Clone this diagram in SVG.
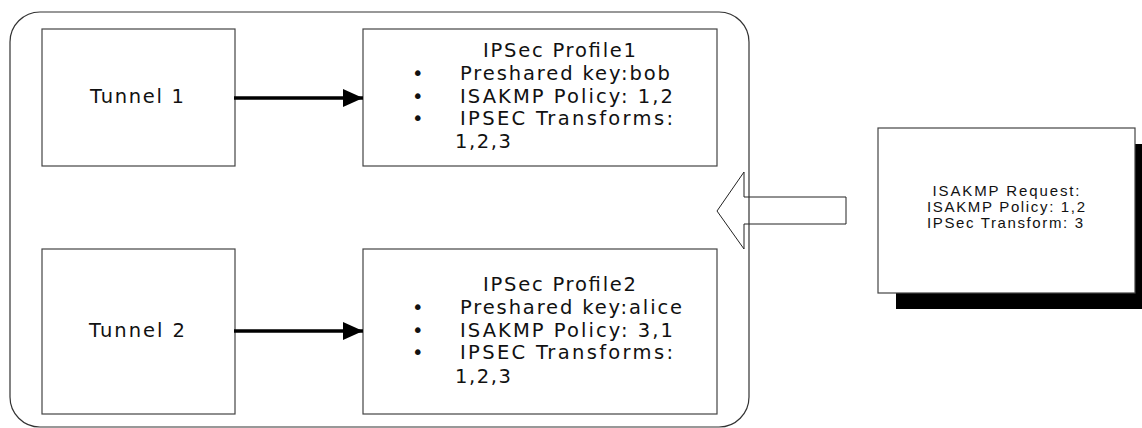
<svg xmlns="http://www.w3.org/2000/svg" width="1142" height="428" viewBox="0 0 1142 428">
<style>
.box{fill:#fff;stroke:#444;stroke-width:1.2}
.t{font-family:"DejaVu Sans",Verdana,sans-serif;font-size:19.5px;fill:#111}
.r{font-family:"Liberation Sans",Arial,sans-serif;font-size:15px;fill:#111;text-anchor:middle}
.conn{stroke:#000;stroke-width:3.5;fill:none}
</style>
<defs>
<marker id="ah" markerUnits="userSpaceOnUse" markerWidth="22" markerHeight="20" refX="20" refY="9" orient="auto">
<path d="M0,0 L20,9 L0,18 Z" fill="#000"/>
</marker>
</defs>
<g id="request-arrow">
<polygon points="717,211 744,172 744,197 846,197 846,224 744,224 744,249" fill="#fff" stroke="#222" stroke-width="1"/>
</g>
<g id="container">
<rect x="10" y="12" width="739" height="415" rx="30" ry="30" fill="none" stroke="#333" stroke-width="1.2"/>
</g>
<g id="tunnel1">
<rect class="box" x="42" y="29" width="193" height="137"/>
<text class="t" x="90" y="103" textLength="94" lengthAdjust="spacing">Tunnel 1</text>
</g>
<g id="tunnel2">
<rect class="box" x="42" y="249" width="193" height="165"/>
<text class="t" x="89" y="337" textLength="96" lengthAdjust="spacing">Tunnel 2</text>
</g>
<g id="profile1">
<rect class="box" x="363" y="29" width="354" height="137"/>
<text class="t" x="483" y="57" textLength="153" lengthAdjust="spacing">IPSec Profile1</text>
<text class="t" x="412" y="80">•</text>
<text class="t" x="460" y="80" textLength="210" lengthAdjust="spacing">Preshared key:bob</text>
<text class="t" x="412" y="103">•</text>
<text class="t" x="460" y="103" textLength="213" lengthAdjust="spacing">ISAKMP Policy: 1,2</text>
<text class="t" x="412" y="125">•</text>
<text class="t" x="460" y="125" textLength="213" lengthAdjust="spacing">IPSEC Transforms:</text>
<text class="t" x="455" y="148" textLength="56" lengthAdjust="spacing">1,2,3</text>
</g>
<g id="profile2">
<rect class="box" x="363" y="249" width="354" height="165"/>
<text class="t" x="483" y="291" textLength="153" lengthAdjust="spacing">IPSec Profile2</text>
<text class="t" x="412" y="314">•</text>
<text class="t" x="460" y="314" textLength="222" lengthAdjust="spacing">Preshared key:alice</text>
<text class="t" x="412" y="337">•</text>
<text class="t" x="460" y="337" textLength="213" lengthAdjust="spacing">ISAKMP Policy: 3,1</text>
<text class="t" x="412" y="359">•</text>
<text class="t" x="460" y="359" textLength="213" lengthAdjust="spacing">IPSEC Transforms:</text>
<text class="t" x="455" y="383" textLength="56" lengthAdjust="spacing">1,2,3</text>
</g>
<g id="request">
<rect x="896" y="144" width="257" height="165" fill="#000"/>
<rect class="box" x="878" y="128" width="257" height="165"/>
<text class="r" x="1006" y="196" textLength="147" lengthAdjust="spacing">ISAKMP Request:</text>
<text class="r" x="1006" y="212" textLength="158" lengthAdjust="spacing">ISAKMP Policy: 1,2</text>
<text class="r" x="1005" y="228" textLength="156" lengthAdjust="spacing">IPSec Transform: 3</text>
</g>
<g id="connectors">
<line class="conn" x1="234" y1="98" x2="363" y2="98" marker-end="url(#ah)"/>
<line class="conn" x1="234" y1="331" x2="363" y2="331" marker-end="url(#ah)"/>
</g>
</svg>
